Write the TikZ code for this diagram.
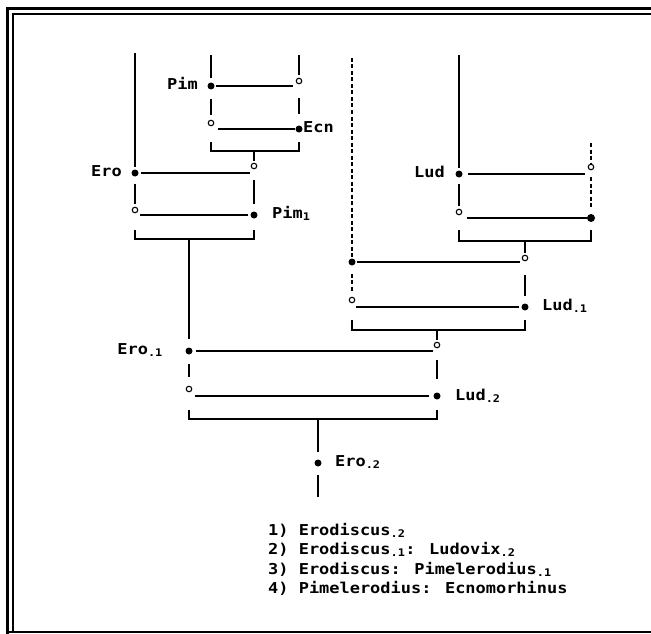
\documentclass[tikz,border=0pt]{standalone}
\usepackage{fontspec}
\newfontfamily\cladofont{DejaVu Sans Mono}[FakeStretch=1.13]
\tikzset{
  fdot/.style={circle, fill=black, inner sep=0pt, minimum size=7pt},
  odot/.style={circle, draw=black, fill=white, line width=1.1pt, inner sep=0pt, minimum size=5.5pt},
  taxon/.style={inner sep=0pt, font=\cladofont\bfseries\fontsize{15}{18}\selectfont},
  branch/.style={line width=1.7pt},
  dashbranch/.style={line width=1.5pt, dash pattern=on 4pt off 2.5pt},
}
\begin{document}
\begin{tikzpicture}[x=1pt,y=-1pt]
\useasboundingbox (0,0) rectangle (651,634);

% frame
\draw[line width=3pt] (7,634) -- (7,9) -- (651,9);
\draw[line width=2pt] (12.5,631) -- (12.5,14.5) -- (651,14.5);
\draw[line width=2pt] (7,631.5) -- (651,631.5);

% Pimelerodius : Ecnomorhinus
\coordinate (pimTop) at (211,55);
\coordinate (ecnTop) at (299,55);
\coordinate (jA) at (254,151);
\node[fdot] (pim) at (211,86) {};
\node[odot] (pimO) at (299,81) {};
\node[odot] (ecnO) at (211,123) {};
\node[fdot] (ecn) at (299,129) {};
\node[taxon, anchor=mid east] (pimL) at (198,87) {Pim};
\node[taxon, anchor=mid west] (ecnL) at (303,130) {Ecn};
\draw[branch, shorten >=4pt] (pimTop) -- (pim);
\draw[branch, shorten >=3pt] (ecnTop) -- (pimO);
\draw[branch, shorten <=1pt, shorten >=6pt] (pim) -- (pim -| pimO);
\draw[branch, shorten <=9pt, shorten >=5pt] (pim) -- (ecnO);
\draw[branch, shorten <=14pt, shorten >=11pt] (pimO) -- (ecn);
\draw[branch, shorten <=0pt, shorten >=7pt] (ecn) -- (ecn -| ecnO);
\draw[branch] (ecnO) ++(0,19) |- (jA) -| ++(45,-9);

% Erodiscus : Pimelerodius_1
\coordinate (eroTop) at (135,53);
\coordinate (jB) at (189,239);
\node[fdot] (ero) at (135,173) {};
\node[odot] (eroO) at (254,166) {};
\node[odot] (pimOneO) at (135,210) {};
\node[fdot] (pimOne) at (254,215) {};
\node[taxon, anchor=mid east] (eroL) at (122,174) {Ero};
\node[taxon, anchor=mid west] (pimOneL) at (272,216) {Pim\textsubscript{1}};
\draw[branch, shorten >=2pt] (jA) -- (eroO);
\draw[branch, shorten >=2pt] (eroTop) -- (ero);
\draw[branch, shorten <=2pt, shorten >=4pt] (ero) -- (ero -| eroO);
\draw[branch, shorten <=7pt, shorten >=2.5pt] (ero) -- (pimOneO);
\draw[branch, shorten <=11pt, shorten >=7pt] (eroO) -- (pimOne);
\draw[branch, shorten <=2pt, shorten >=5pt] (pimOne) -- (pimOne -| pimOneO);
\draw[branch] (pimOneO) ++(0,20) |- (jB) -| ++(65,-9);

% Ludovix
\coordinate (ludTop) at (459,55);
\coordinate (ludRTop) at (591,143);
\coordinate (jC) at (525,241);
\node[fdot] (lud) at (459,174) {};
\node[odot] (ludO) at (591,167) {};
\node[odot] (ludbO) at (459,212) {};
\node[fdot, minimum size=8pt] (ludb) at (591,218) {};
\node[taxon, anchor=mid east] (ludL) at (445,175) {Lud};
\draw[branch, shorten >=2pt] (ludTop) -- (lud);
\draw[dashbranch, shorten >=1pt] (ludRTop) -- (ludO);
\draw[branch, shorten <=5pt, shorten >=6pt] (lud) -- (lud -| ludO);
\draw[branch, shorten <=6pt, shorten >=3pt] (lud) -- (ludbO);
\draw[dashbranch, shorten <=7pt, shorten >=7pt] (ludO) -- (ludb);
\draw[branch, shorten >=8pt] (ludb) -- (ludb -| ludbO);
\draw[branch] (ludbO) ++(0,18) |- (jC) -| ++(66,-11);

% Ludovix_-1
\coordinate (ludxTop) at (352,58);
\coordinate (jD) at (437,330);
\node[fdot] (ludx) at (352,262) {};
\node[odot] (ludxO) at (525,258) {};
\node[odot] (ludMOneO) at (352,300) {};
\node[fdot] (ludMOne) at (525,307) {};
\node[taxon, anchor=mid west] (ludMOneL) at (542,308) {Lud\textsubscript{.1}};
\draw[branch, shorten >=2pt] (jC) -- (ludxO);
\draw[dashbranch, shorten >=1pt] (ludxTop) -- (ludx);
\draw[branch, shorten <=1pt, shorten >=5pt] (ludx) -- (ludx -| ludxO);
\draw[dashbranch, shorten <=8pt, shorten >=5pt] (ludx) -- (ludMOneO);
\draw[branch, shorten <=14pt, shorten >=7pt] (ludxO) -- (ludMOne);
\draw[branch, shorten <=2pt, shorten >=4pt] (ludMOne) -- (ludMOne -| ludMOneO);
\draw[branch] (ludMOneO) ++(0,20) |- (jD) -| ++(88,-10);

% Erodiscus_-1 : Ludovix_-2
\coordinate (jE) at (318,419);
\coordinate (eroMTwoEnd) at (318,497);
\node[fdot] (eroMOne) at (189,351) {};
\node[odot] (eroMOneO) at (437,345) {};
\node[odot] (ludMTwoO) at (189,389) {};
\node[fdot] (ludMTwo) at (437,396) {};
\node[fdot] (eroMTwo) at (318,463) {};
\node[taxon, anchor=mid east] (eroMOneL) at (163,352) {Ero\textsubscript{.1}};
\node[taxon, anchor=mid west] (ludMTwoL) at (455,398) {Lud\textsubscript{.2}};
\node[taxon, anchor=mid west] (eroMTwoL) at (335,464) {Ero\textsubscript{.2}};
\draw[branch, shorten >=8pt] (jB) -- (eroMOne);
\draw[branch, shorten >=2pt] (jD) -- (eroMOneO);
\draw[branch, shorten <=3pt, shorten >=4pt] (eroMOne) -- (eroMOne -| eroMOneO);
\draw[branch, shorten <=9pt, shorten >=9pt] (eroMOne) -- (ludMTwoO);
\draw[branch, shorten <=12pt, shorten >=13pt] (eroMOneO) -- (ludMTwo);
\draw[branch, shorten <=4pt, shorten >=6pt] (ludMTwo) -- (ludMTwo -| ludMTwoO);
\draw[branch] (ludMTwoO) ++(0,21) |- (jE) -| ++(119,-9);
\draw[branch, shorten >=7pt] (jE) -- (eroMTwo);
\draw[branch, shorten <=8pt] (eroMTwo) -- (eroMTwoEnd);

% legend
\node[taxon, anchor=mid west] (leg1) at (268,533) {1) Erodiscus\textsubscript{.2}};
\node[taxon, anchor=mid west] (leg2) at (268,552) {2) Erodiscus\textsubscript{.1}: Ludovix\textsubscript{.2}};
\node[taxon, anchor=mid west] (leg3) at (268,572) {3) Erodiscus: Pimelerodius\textsubscript{.1}};
\node[taxon, anchor=mid west] (leg4) at (268,591) {4) Pimelerodius: Ecnomorhinus};
\end{tikzpicture}
\end{document}
